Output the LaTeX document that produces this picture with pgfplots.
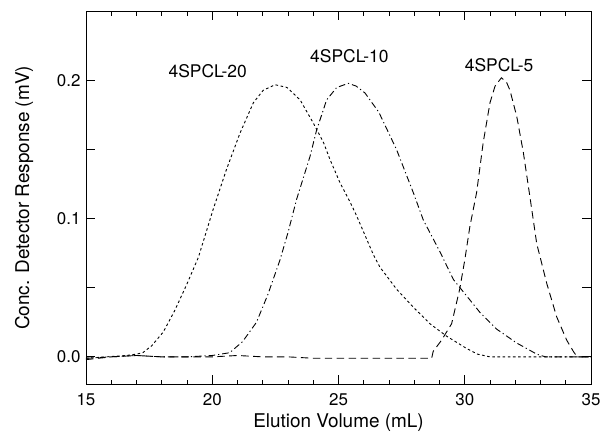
\documentclass[border=0pt]{standalone}
\usepackage{pgfplots}
\pgfplotsset{compat=1.18}
\usepackage{fontspec}
\setmainfont{TeX Gyre Heros}
\begin{document}
\begin{tikzpicture}
\useasboundingbox (0,0) rectangle (602bp,442bp);
\begin{axis}[
  at={(86bp,57.5bp)}, anchor=south west,
  scale only axis,
  width=505bp, height=373bp,
  xmin=15, xmax=35, ymin=-0.02, ymax=0.25,
  xtick={15,20,25,30,35},
  minor x tick num=4,
  ytick={0,0.05,0.1,0.15,0.2},
  yticklabels={0.0,,0.1,,0.2},
  tick align=inside,
  major tick length=9bp, minor tick length=4.5bp,
  /pgf/number format/assume math mode=true,
  ticklabel style={font=\fontsize{17}{20}\selectfont},
  xticklabel style={yshift=-5bp},
  yticklabel style={xshift=-2bp},
  label style={font=\fontsize{19}{22}\selectfont},
  xlabel={Elution Volume (mL)},
  ylabel={Conc. Detector Response (mV)},
  xlabel style={at={(axis description cs:0.5,-0.102)}, anchor=center},
  ylabel style={at={(axis description cs:-0.1225,0.5)}, anchor=center},
  axis line style={line width=1pt},
  tick style={line width=0.8pt, black},
  clip=false,
]
% 4SPCL-20 dotted
\addplot[black, line width=0.9pt, dash pattern=on 2.6pt off 2.6pt] coordinates {
(15.0,-0.001) (15.8,0.000) (16.6,0.001) (17.0,0.002) (17.25,0.003) (17.6,0.008) (18.06,0.018) (18.5,0.033) (18.98,0.052) (19.45,0.072) (20.04,0.107) (20.57,0.136) (21.10,0.162) (21.63,0.184) (22.02,0.193) (22.49,0.197) (22.96,0.195) (23.48,0.186) (24.01,0.169) (24.41,0.155) (24.66,0.143) (25.06,0.126) (25.46,0.112) (25.72,0.102) (26.05,0.088) (26.38,0.074) (26.64,0.065) (27.30,0.049) (27.96,0.036) (28.62,0.024) (29.28,0.015) (30.08,0.006) (30.5,0.002) (31.0,0.000) (32,0.000) (33,0.000) (34,0.000) (35,0.000)
};
% 4SPCL-10 dash-dot
\addplot[black, line width=0.9pt, dash pattern=on 6.5pt off 3pt on 1.2pt off 3pt] coordinates {
(15.0,-0.001) (16.0,0.000) (17.0,0.001) (18.0,0.000) (19.0,0.000) (20.0,0.001) (20.69,0.003) (21.2,0.011) (21.75,0.025) (22.2,0.045) (22.68,0.070) (23.0,0.090) (23.34,0.114) (23.87,0.145) (24.13,0.164) (24.53,0.186) (24.93,0.195) (25.39,0.198) (25.7,0.196) (26.05,0.191) (26.6,0.177) (27.30,0.150) (27.96,0.119) (28.36,0.099) (29.02,0.076) (29.55,0.056) (30.08,0.044) (30.61,0.032) (31.27,0.020) (32.06,0.010) (32.85,0.002) (33.2,0.000) (34,0.000) (35,0.000)
};
% 4SPCL-5 dashed
\addplot[black, line width=0.9pt, dash pattern=on 7.5pt off 4.5pt] coordinates {
(15.0,-0.002) (16.0,0.000) (17.0,0.001) (18.0,0.000) (19.0,0.000) (20.0,0.000) (21.0,0.001) (22.0,0.000) (23.0,0.000) (24.0,-0.001) (25.0,-0.001) (26.0,-0.001) (27.0,-0.001) (28.0,-0.001) (28.69,-0.001) (28.75,0.004) (29.08,0.012) (29.48,0.024) (29.80,0.049) (30.0,0.070) (30.2,0.094) (30.47,0.119) (30.73,0.155) (31.0,0.184) (31.2,0.196) (31.45,0.202) (31.65,0.199) (31.79,0.193) (32.06,0.174) (32.32,0.148) (32.58,0.116) (32.85,0.082) (33.25,0.053) (33.64,0.029) (34.04,0.012) (34.30,0.004) (34.45,0.000) (35,0.000)
};
\node[font=\fontsize{17.5}{20}\selectfont] at (axis cs:19.82,0.2066) {4SPCL-20};
\node[font=\fontsize{17.5}{20}\selectfont] at (axis cs:25.43,0.2177) {4SPCL-10};
\node[font=\fontsize{17.5}{20}\selectfont] at (axis cs:31.36,0.211) {4SPCL-5};
\end{axis}
\end{tikzpicture}
\end{document}
